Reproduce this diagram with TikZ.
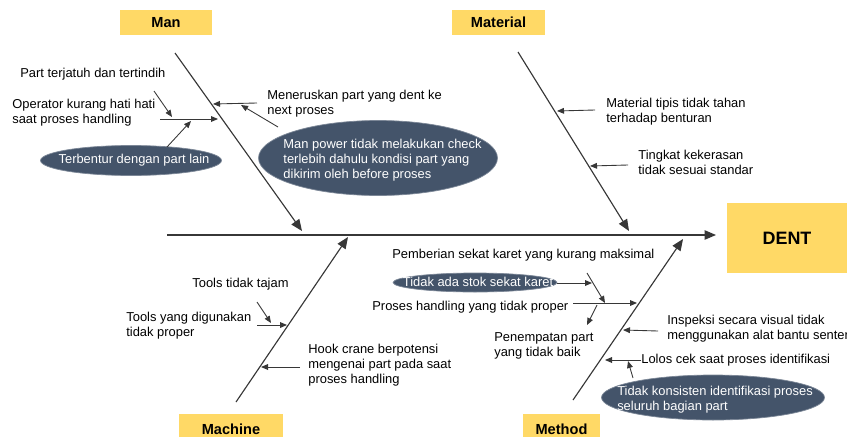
\documentclass[tikz,border=0pt]{standalone}
\usepackage{fontspec}
\setmainfont{Liberation Sans}
\usetikzlibrary{arrows.meta, shapes.geometric, positioning}
\definecolor{catfill}{RGB}{255,217,102}
\definecolor{causefill}{RGB}{68,84,106}
\definecolor{boneline}{RGB}{55,55,55}

\begin{document}
\begin{tikzpicture}[
    x=0.02cm, y=-0.02cm,
    every node/.style={font=\fontsize{7.35}{8.5}\selectfont},
    cattag/.style={rectangle, fill=catfill, font=\fontsize{8.3}{10}\selectfont\bfseries,
        minimum width=1.85cm, minimum height=0.5cm},
    causetext/.style={anchor=west, align=left, inner sep=0pt},
    causeell/.style={ellipse, fill=causefill, draw=causefill!70!white,
        line width=0.4pt, inner sep=0pt},
    elltext/.style={text=white, align=left, inner sep=0pt},
    bone/.style={boneline, line width=0.65pt, -{Triangle[length=2.3mm,width=1.9mm]}},
    twig/.style={boneline, line width=0.5pt, -{Triangle[length=1.4mm,width=1.15mm]}},
]
\useasboundingbox (0,0) rectangle (847,436);

% === SPINE AND HEAD ===
\node[cattag, minimum width=2.4cm, minimum height=1.4cm,
      font=\fontsize{10.2}{12}\selectfont\bfseries] (dent) at (787,238) {DENT};
\coordinate (spinestart) at (167,235);
\coordinate (spinetip) at (716,235);
\draw[bone] (spinestart) -- (spinetip);

% === CATEGORY BONES ===
\node[cattag] (man) at (166,22.5) {Man};
\node[cattag, minimum width=1.86cm] (material) at (498.5,22.5) {Material};
\node[cattag, minimum width=2.08cm, minimum height=0.6cm] (machine) at (231,429) {Machine};
\node[cattag, minimum width=1.54cm, minimum height=0.62cm] (method) at (561.5,429) {Method};

\coordinate (mantop) at (175,53);
\coordinate (mantip) at (302,231);
\coordinate (mattop) at (518,52);
\coordinate (mattip) at (629,231);
\coordinate (machbot) at (236,402);
\coordinate (machtip) at (348,237);
\coordinate (methbot) at (573,400);
\coordinate (methtip) at (683,239);

\draw[bone] (mantop) -- (mantip);
\draw[bone] (mattop) -- (mattip);
\draw[bone] (machbot) -- (machtip);
\draw[bone] (methbot) -- (methtip);

% === MAN ===
\node[causetext] (jatuh) at (20,74) {Part terjatuh dan tertindih};
\node[causetext] (operator) at (12,112.5) {Operator kurang hati hati\\saat proses handling};
\node[causeell, minimum width=3.62cm, minimum height=0.6cm] (terbentur) at (131,160.5) {};
\node[elltext] at (134,160) {Terbentur dengan part lain};
\node[causetext] (meneruskan) at (267,103.5) {Meneruskan part yang dent ke\\next proses};
\node[causeell, minimum width=4.78cm, minimum height=1.5cm] (manpower) at (378,158) {};
\node[elltext] at (382.5,160.5) {Man power tidak melakukan check\\terlebih dahulu kondisi part yang\\dikirim oleh before proses};

\coordinate (operatorA) at (160,119);
\coordinate (operatorB) at (218,119);
\coordinate (jatuhA) at (154,91);
\coordinate (jatuhB) at (172,117);
\coordinate (terbenturA) at (167,147);
\coordinate (terbenturB) at (191,121);
\coordinate (meneruskanA) at (257,103);
\coordinate (meneruskanB) at (213,104);
\coordinate (manpowerA) at (278,127);
\coordinate (manpowerB) at (241,105);

\draw[twig] (operatorA) -- (operatorB);
\draw[twig] (jatuhA) -- (jatuhB);
\draw[twig] (terbenturA) -- (terbenturB);
\draw[twig] (meneruskanA) -- (meneruskanB);
\draw[twig] (manpowerA) -- (manpowerB);

% === MATERIAL ===
\node[causetext] (tipis) at (606,112) {Material tipis tidak tahan\\terhadap benturan};
\node[causetext] (keras) at (638,162.5) {Tingkat kekerasan\\tidak sesuai standar};

\coordinate (tipisA) at (595,110);
\coordinate (tipisB) at (557,111);
\coordinate (kerasA) at (628,165);
\coordinate (kerasB) at (590,166);

\draw[twig] (tipisA) -- (tipisB);
\draw[twig] (kerasA) -- (kerasB);

% === MACHINE ===
\node[causetext] (tajam) at (192,284) {Tools tidak tajam};
\node[causetext] (tools) at (126,325.5) {Tools yang digunakan\\tidak proper};
\node[causetext] (hook) at (308,365) {Hook crane berpotensi\\mengenai part pada saat\\proses handling};

\coordinate (toolsA) at (257,325);
\coordinate (toolsB) at (287,325);
\coordinate (tajamA) at (257,302);
\coordinate (tajamB) at (271,323);
\coordinate (hookA) at (300,367);
\coordinate (hookB) at (261,367);

\draw[twig] (toolsA) -- (toolsB);
\draw[twig] (tajamA) -- (tajamB);
\draw[twig] (hookA) -- (hookB);

% === METHOD ===
\node[causetext] (sekat) at (392,255) {Pemberian sekat karet yang kurang maksimal};
\node[causeell, minimum width=3.28cm, minimum height=0.38cm] (stok) at (475,282.5) {};
\node[elltext] at (478,282) {Tidak ada stok sekat karet};
\node[causetext] (handling) at (372,307.5) {Proses handling yang tidak proper};
\node[causetext] (penempatan) at (494,345.5) {Penempatan part\\yang tidak baik};
\node[causetext] (inspeksi) at (667,328.5) {Inspeksi secara visual tidak\\menggunakan alat bantu senter};
\node[causetext] (lolos) at (641,360.5) {Lolos cek saat proses identifikasi};
\node[causeell, minimum width=4.46cm, minimum height=0.9cm] (konsisten) at (713,397.5) {};
\node[elltext] at (715,399.5) {Tidak konsisten identifikasi proses\\seluruh bagian part};

\coordinate (stokA) at (557,283);
\coordinate (stokB) at (592,283);
\coordinate (sekatA) at (587,273);
\coordinate (sekatB) at (605,303);
\coordinate (handlingA) at (573,303);
\coordinate (handlingB) at (637,303);
\coordinate (penempatanA) at (597,305);
\coordinate (penempatanB) at (587,325);
\coordinate (inspeksiA) at (658,331);
\coordinate (inspeksiB) at (623,330);
\coordinate (lolosA) at (641,360);
\coordinate (lolosB) at (605,360);
\coordinate (konsistenA) at (633,378);
\coordinate (konsistenB) at (628,361);

\draw[twig] (stokA) -- (stokB);
\draw[twig] (sekatA) -- (sekatB);
\draw[twig] (handlingA) -- (handlingB);
\draw[twig] (penempatanA) -- (penempatanB);
\draw[twig] (inspeksiA) -- (inspeksiB);
\draw[twig] (lolosA) -- (lolosB);
\draw[twig] (konsistenA) -- (konsistenB);

\end{tikzpicture}
\end{document}
